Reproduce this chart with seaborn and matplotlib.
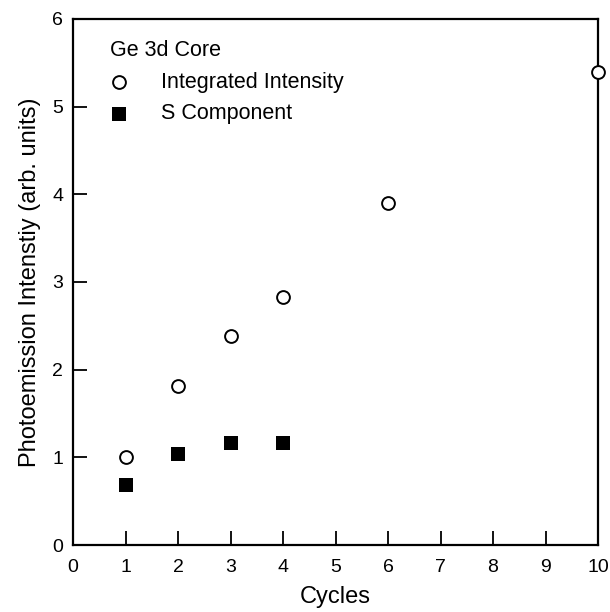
import numpy as np
import pandas as pd
import seaborn as sns
import matplotlib
matplotlib.use("Agg")
import matplotlib.pyplot as plt

sns.set_theme(style="ticks")
plt.rcParams['font.family'] = ['Liberation Sans', 'DejaVu Sans']
plt.rcParams.update({'text.color': 'black', 'axes.labelcolor': 'black',
                     'xtick.color': 'black', 'ytick.color': 'black'})

# data
cycles_int = [1, 2, 3, 4, 6, 10]
integrated = [1.00, 1.81, 2.38, 2.83, 3.90, 5.40]
cycles_s = [1, 2, 3, 4]
s_comp = [0.68, 1.04, 1.16, 1.16]

df_int = pd.DataFrame({'cycles': cycles_int, 'intensity': integrated})
df_s = pd.DataFrame({'cycles': cycles_s, 'intensity': s_comp})

fig = plt.figure(figsize=(6.10, 6.12), dpi=100)
ax = fig.add_axes([73/610, 1 - 545/612, 525/610, 526/612])

sns.scatterplot(data=df_int, x='cycles', y='intensity', ax=ax, marker='o',
                s=85, facecolor='white', edgecolor='black', linewidth=1.4,
                label='Integrated Intensity', zorder=3, clip_on=False)
sns.scatterplot(data=df_s, x='cycles', y='intensity', ax=ax, marker='s',
                s=90, color='black', edgecolor='black', linewidth=0,
                label='S Component', zorder=3, clip_on=False)

ax.set_xlim(0, 10)
ax.set_ylim(0, 6)
ax.set_xticks(range(0, 11))
ax.set_yticks(range(0, 7))
ax.tick_params(direction='in', length=10, width=1.3, labelsize=14,
               top=False, right=False)
ax.tick_params(axis='x', pad=10)
ax.tick_params(axis='y', pad=7)
for sp in ax.spines.values():
    sp.set_linewidth(1.6)
    sp.set_color('black')

ax.set_xlabel('Cycles', fontsize=17, labelpad=7)
ax.set_ylabel('Photoemission Intenstiy (arb. units)', fontsize=17, labelpad=8)

leg = ax.legend(title='Ge 3d Core', loc='upper left', frameon=False,
                fontsize=15.5, title_fontsize=15.5, alignment='left',
                handlelength=0.8, handletextpad=1.55, borderaxespad=0.3,
                labelspacing=0.5, borderpad=0.3, bbox_to_anchor=(0.046, 0.985))

fig.savefig('out.png', dpi=100)
